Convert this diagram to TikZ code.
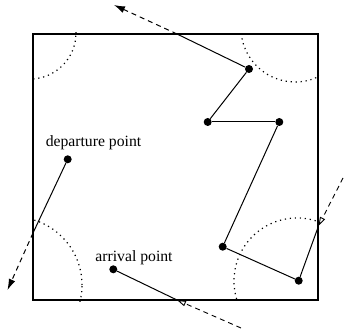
\documentclass[tikz,border=0pt]{standalone}
\usepackage{fontspec}
\setmainfont{Liberation Serif}
\usetikzlibrary{arrows.meta}
\tikzset{
  >=Latex,
  hit/.style={circle,fill=black,inner sep=0pt,minimum size=8pt},
  walk/.style={line width=1pt,draw=black},
  escape/.style={-{Latex[length=11pt,width=7pt]},line width=1pt,dash pattern=on 5pt off 4pt},
  reenter/.style={-{Triangle[open,length=9pt,width=5.5pt]},line width=0.9pt,dash pattern=on 5pt off 4pt},
  reach/.style={line width=1.2pt,dash pattern=on 1.2pt off 3.8pt},
  tag/.style={font=\fontsize{15.7}{18}\selectfont,anchor=base,inner sep=0pt}
}
\begin{document}
\begin{tikzpicture}[x=1pt,y=-1pt]
  \useasboundingbox (0,0) rectangle (345,336);
  \node[draw,line width=2.5pt,minimum width=285pt,minimum height=266pt,inner sep=0pt] (cell) at (175.5,167) {};
  % dotted ranges round the corners
  \begin{scope}
    \clip (cell.south west) rectangle (cell.north east);
    \draw[reach] (30,33) circle[radius=46pt];
    \draw[reach] (295,28) circle[radius=54pt];
    \draw[reach] (297,281) circle[radius=63pt];
    \draw[reach] (14,285) circle[radius=68pt];
  \end{scope}
  \node[hit] (dep) at (67.7,159.3) {};
  \node[hit] (arr) at (113.3,269.3) {};
  \node[hit] (hop1) at (249,69) {};
  \node[hit] (hop2) at (207.7,122) {};
  \node[hit] (hop3) at (279.3,122) {};
  \node[hit] (hop4) at (222.7,246.7) {};
  \node[hit] (hop5) at (298.7,280.7) {};
  \node[tag] (depLabel) at (93.5,147) {departure point};
  \node[tag] (arrLabel) at (134,261.5) {arrival point};
  \coordinate (topExit) at (177,34);
  \coordinate (topTip) at (114,5);
  \coordinate (leftExit) at (33,233);
  \coordinate (leftTip) at (7.5,290);
  \coordinate (bottomIn) at (177,300);
  \coordinate (bottomTail) at (241,328);
  \coordinate (rightIn) at (318.5,226);
  \coordinate (rightTail) at (343,178);
  \draw[walk] (hop1)--(topExit);
  \draw[escape] (topExit)--(topTip);
  \draw[walk] (hop1)--(hop2);
  \draw[walk] (hop2)--(hop3);
  \draw[walk] (hop3)--(hop4);
  \draw[walk] (hop4)--(hop5);
  \draw[walk] (hop5)--(rightIn);
  \draw[reenter] (rightTail)--(rightIn);
  \draw[walk] (dep)--(leftExit);
  \draw[escape] (leftExit)--(leftTip);
  \draw[reenter] (bottomTail)--(bottomIn);
  \draw[walk] (bottomIn)--(arr);
\end{tikzpicture}
\end{document}
